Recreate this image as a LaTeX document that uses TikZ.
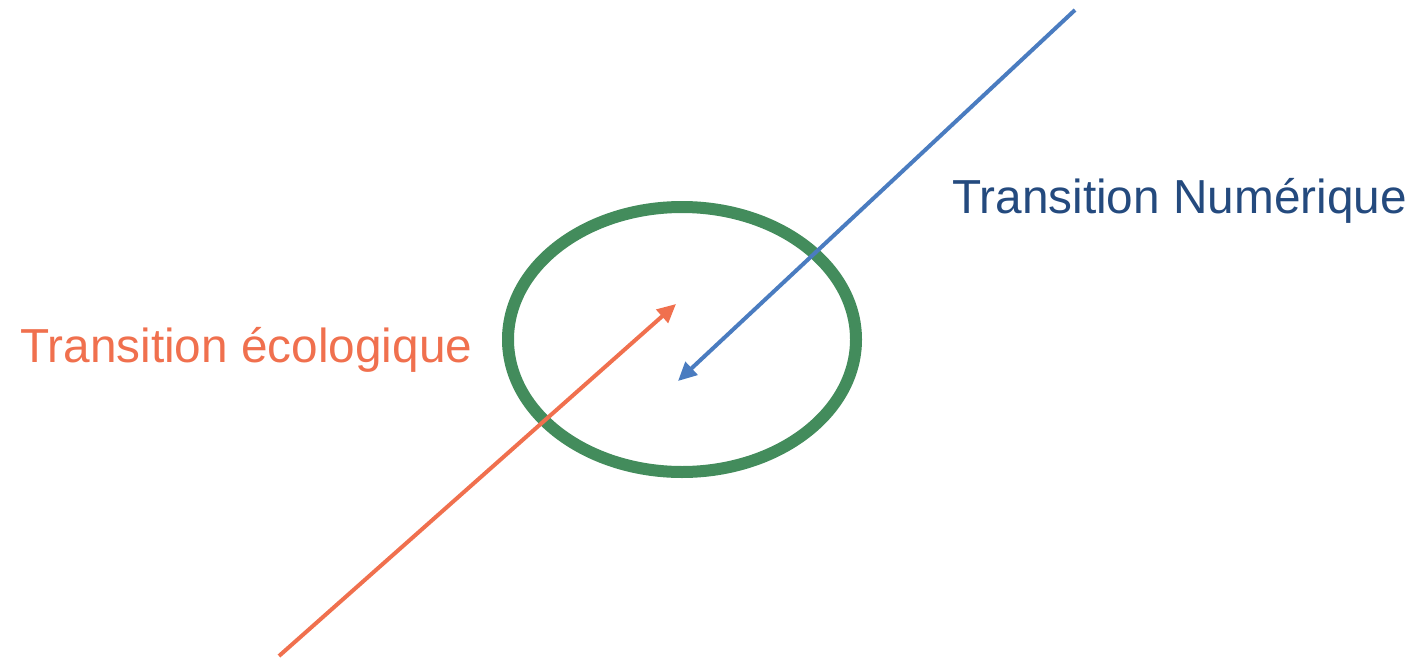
\documentclass[tikz,border=0pt]{standalone}
\usepackage{fontspec}
\setmainfont{Liberation Sans}
\usetikzlibrary{arrows.meta}
\definecolor{ecoOrange}{HTML}{F0704E}
\definecolor{numBlue}{HTML}{4A7CC0}
\definecolor{numText}{HTML}{244A7E}
\definecolor{ringGreen}{HTML}{438C5C}
\tikzset{
  px/.style={x=0.75pt,y=-0.75pt},
  arrowline/.style={line width=3pt,-{Triangle[length=14pt,width=13pt]}},
  label/.style={font=\fontsize{35.8}{40}\selectfont,inner sep=0pt,anchor=base west}
}
\begin{document}
\begin{tikzpicture}[px]
\useasboundingbox (0,0) rectangle (1413,660);
\draw[ringGreen,line width=9pt] (682,339.5) ellipse [x radius=174,y radius=132.5];
\coordinate (ecoStart) at (279,656);
\coordinate (ecoEnd) at (676,304);
\coordinate (numStart) at (1075,10);
\coordinate (numEnd) at (678,381);
\draw[arrowline,ecoOrange] (ecoStart) -- (ecoEnd);
\draw[arrowline,numBlue] (numStart) -- (numEnd);
\node[label,text=ecoOrange] (eco) at (20,362) {Transition écologique};
\node[label,text=numText] (num) at (952,213) {Transition Numérique};
\end{tikzpicture}
\end{document}
